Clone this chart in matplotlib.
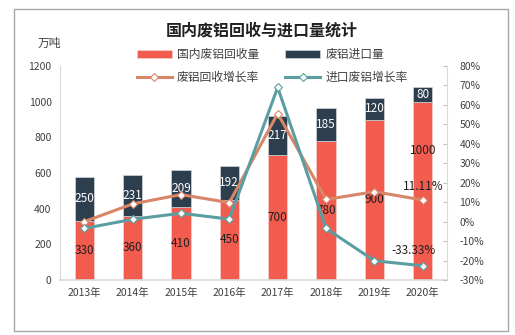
import matplotlib
matplotlib.use("Agg")
import matplotlib.pyplot as plt
from matplotlib.patches import Rectangle
from matplotlib.ticker import FuncFormatter

plt.rcParams['font.family'] = ['Noto Sans CJK SC', 'DejaVu Sans']

years = ['2013年', '2014年', '2015年', '2016年', '2017年', '2018年', '2019年', '2020年']
domestic = [330, 360, 410, 450, 700, 780, 900, 1000]
imports = [250, 231, 209, 192, 217, 185, 120, 80]
# 增长率 (%), 按图中点位读取
recycle_growth = [0.0, 9.09, 13.9, 9.76, 55.56, 11.4, 15.4, 11.11]
import_growth = [-3.5, 1.2, 4.3, 1.3, 69.0, -3.5, -20.1, -22.7]
rate_labels = ['11.11%', '-33.33%']   # 仅2020年显示

red = '#F25C4E'
navy = '#2D3E4E'
orange = '#D98568'
teal = '#5B9EA2'
txt = '#404040'

fig = plt.figure(figsize=(5.15, 3.35), dpi=100)
fig.patches.append(Rectangle((14/515, 4/335), 494/515, 322/335, transform=fig.transFigure,
                             fill=False, edgecolor='#A6A6A6', lw=1))

ax = fig.add_axes([60/515, 55/335, 387/515, 214/335])
x = list(range(len(years)))
w = 0.4
b1 = ax.bar(x, domestic, w, color=red, edgecolor='#F8D0CC', lw=0.5, label='国内废铝回收量', zorder=2)
b2 = ax.bar(x, imports, w, bottom=domestic, color=navy, edgecolor='#D0D5DA', lw=0.5,
            label='废铝进口量', zorder=2)

for i in x:
    yv = domestic[i] / 2
    dy = 0
    if i == len(x) - 1:
        dy = 29  # 2020年标签上移
    ax.annotate(str(domestic[i]), (i, yv), xytext=(0, dy), textcoords='offset points',
                ha='center', va='center', fontsize=8.5, color='#202020', zorder=5)
    ax.text(i, domestic[i] + imports[i] / 2, str(imports[i]), ha='center', va='center',
            fontsize=8.5, color='white', zorder=5)

ax.set_xlim(-0.5, 7.5)
ax.set_ylim(0, 1200)
ax.set_yticks(range(0, 1201, 200))
ax.set_xticks(x)
ax.set_xticklabels(years)
ax.tick_params(axis='both', labelsize=7.5, colors=txt, length=0, pad=6)
for s in ['top', 'right']:
    ax.spines[s].set_visible(False)
ax.spines['left'].set_color('#D9D9D9')
ax.spines['bottom'].set_color('#D9D9D9')
ax.spines['bottom'].set_linewidth(1.2)

ax2 = ax.twinx()
l1, = ax2.plot(x, recycle_growth, color=orange, lw=2.2, marker='D', ms=4.5,
               mfc='white', mec=orange, mew=0.8, label='废铝回收增长率', zorder=3)
l2, = ax2.plot(x, import_growth, color=teal, lw=2.2, marker='D', ms=4.5,
               mfc='white', mec=teal, mew=0.8, label='进口废铝增长率', zorder=3)
ax2.set_ylim(-30, 80)
ax2.set_yticks(range(-30, 81, 10))
ax2.yaxis.set_major_formatter(FuncFormatter(lambda v, p: f'{v:.0f}%'))
ax2.tick_params(axis='y', labelsize=7.5, colors=txt, direction='in', length=3, pad=9)
ax2.tick_params(axis='y', color='#BFBFBF')
for s in ['top', 'left', 'bottom']:
    ax2.spines[s].set_visible(False)
ax2.spines['right'].set_color('#D9D9D9')

ax2.annotate(rate_labels[0], (7, recycle_growth[7]), xytext=(0, 10), textcoords='offset points',
             ha='center', va='center', fontsize=8.5, color='#202020')
ax2.annotate(rate_labels[1], (7, import_growth[7]), xytext=(-7, 11), textcoords='offset points',
             ha='center', va='center', fontsize=8.5, color='#202020',
             arrowprops=dict(arrowstyle='-', color='#A0A0A0', lw=0.5, shrinkA=4, shrinkB=3))

fig.legend([b1, l1, b2, l2], ['国内废铝回收量', '废铝回收增长率', '废铝进口量', '进口废铝增长率'],
           ncol=2, loc='center', bbox_to_anchor=(272/515, 1 - 66/335), frameon=False,
           fontsize=8.5, labelcolor=txt, handlelength=3, columnspacing=2.2,
           handletextpad=0.4, labelspacing=0.8)

fig.text(262/515, 1 - 30/335, '国内废铝回收与进口量统计', ha='center', va='center',
         fontsize=11.5, fontweight='bold', color='#202020')
fig.text(49/515, 1 - 43/335, '万吨', ha='center', va='center', fontsize=8.5, color=txt)

fig.savefig('out.png', dpi=100)
